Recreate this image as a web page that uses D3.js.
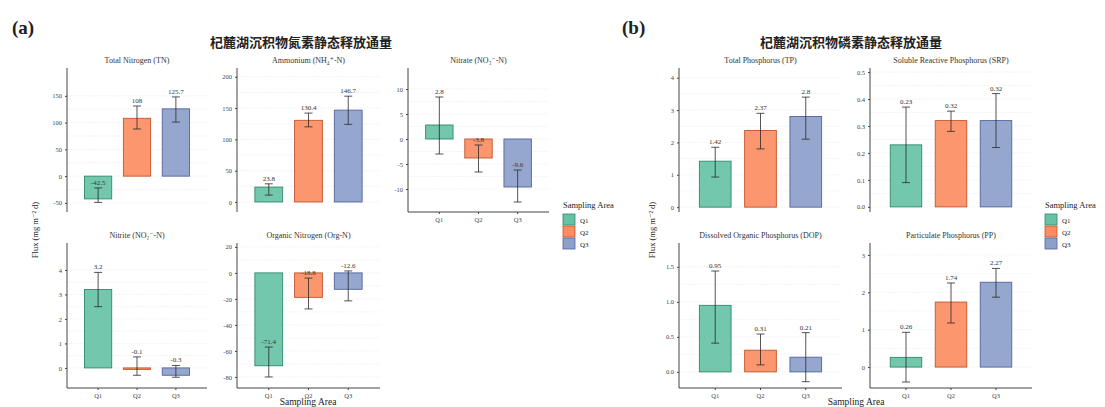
<!DOCTYPE html>
<html lang="en">
<meta charset="utf-8">
<script src="https://d3js.org/d3.v7.min.js"></script>
<style>
  body {margin: 0; background: #fff;}
  text {font-family: "Liberation Serif", "DejaVu Serif", serif; fill: #222;}
  .cn {font-family: "Noto Sans CJK SC", sans-serif; font-weight: bold; fill: #222;}
  .tick text {fill: #444; font-size: 6.5px;}
  .tick line {stroke: #444;}
  .domain {stroke: #444;}
</style>
<body>
<svg width=1105 height=407></svg>
<script>
// sampling areas and colours
var areas = ["Q1", "Q2", "Q3"];
var fills = ["#66c2a5", "#fc8d62", "#8da0cb"];
var strokes = ["#2f8a6c", "#c2552c", "#52649a"];

// nitrogen (mean, lower / upper end of error bar)
var tnMean = [-42.5, 108, 125.7];
var tnLo = [-49, 88, 101];
var tnHi = [-22, 131, 148];
var nh4Mean = [23.8, 130.4, 146.7];
var nh4Lo = [11, 120, 124];
var nh4Hi = [29, 142, 169];
var no3Mean = [2.8, -3.8, -9.6];
var no3Lo = [-3, -6.6, -12.6];
var no3Hi = [8.4, -1.2, -6.2];
var no2Mean = [3.2, -0.06, -0.3];
var no2Lo = [2.5, -0.3, -0.38];
var no2Hi = [3.9, 0.45, 0.1];
var orgnMean = [-71.4, -18.8, -12.6];
var orgnLo = [-80, -27.7, -21.5];
var orgnHi = [-57, -4, 1.5];

// phosphorus
var tpMean = [1.42, 2.37, 2.8];
var tpLo = [0.93, 1.8, 2.1];
var tpHi = [1.85, 2.9, 3.4];
var srpMean = [0.23, 0.32, 0.32];
var srpLo = [0.09, 0.28, 0.22];
var srpHi = [0.37, 0.355, 0.42];
var dopMean = [0.95, 0.31, 0.21];
var dopLo = [0.41, 0.1, -0.14];
var dopHi = [1.44, 0.54, 0.56];
var ppMean = [0.26, 1.74, 2.27];
var ppLo = [-0.4, 1.18, 1.87];
var ppHi = [0.93, 2.25, 2.64];

// y ticks
var tnTicks = [-50, 0, 50, 100, 150];
var nh4Ticks = [0, 50, 100, 150, 200];
var no3Ticks = [-10, -5, 0, 5, 10];
var no2Ticks = [0, 1, 2, 3, 4];
var orgnTicks = [-80, -60, -40, -20, 0, 20];
var tpTicks = [0, 1, 2, 3, 4];
var srpTicks = [0, 0.1, 0.2, 0.3, 0.4, 0.5];
var dopTicks = [0, 0.5, 1, 1.5];
var ppTicks = [0, 1, 2, 3];

var svg = d3.select("svg");

function fixMinus(s) { return s.replace("\u2212", "-"); }

var panels = [
  {t: "Total Nitrogen (TN)", m: tnMean, lo: tnLo, hi: tnHi, ticks: tnTicks, tf: "d", lf: ".1~f", dom: [-67, 202], x: 67, y: 68, w: 140, h: 144, xa: false},
  {t: "Ammonium (NH\u2084\u207A-N)", m: nh4Mean, lo: nh4Lo, hi: nh4Hi, ticks: nh4Ticks, tf: "d", lf: ".1~f", dom: [-16, 214], x: 237, y: 68, w: 143, h: 144, xa: false},
  {t: "Nitrate (NO\u2083\u207B-N)", m: no3Mean, lo: no3Lo, hi: no3Hi, ticks: no3Ticks, tf: "d", lf: ".1~f", dom: [-14.6, 14.2], x: 408, y: 68, w: 141, h: 144, xa: true},
  {t: "Nitrite (NO\u2082\u207B-N)", m: no2Mean, lo: no2Lo, hi: no2Hi, ticks: no2Ticks, tf: "d", lf: ".1~f", dom: [-0.82, 5.1], x: 67, y: 243, w: 140, h: 145, xa: true},
  {t: "Organic Nitrogen (Org-N)", m: orgnMean, lo: orgnLo, hi: orgnHi, ticks: orgnTicks, tf: "d", lf: ".1~f", dom: [-88.5, 23], x: 237, y: 243, w: 143, h: 145, xa: true},
  {t: "Total Phosphorus (TP)", m: tpMean, lo: tpLo, hi: tpHi, ticks: tpTicks, tf: "d", lf: ".2~f", dom: [-0.15, 4.3], x: 679, y: 68, w: 163, h: 144, xa: false},
  {t: "Soluble Reactive Phosphorus (SRP)", m: srpMean, lo: srpLo, hi: srpHi, ticks: srpTicks, tf: ".1f", lf: ".2~f", dom: [-0.019, 0.515], x: 870, y: 68, w: 162, h: 144, xa: false},
  {t: "Dissolved Organic Phosphorus (DOP)", m: dopMean, lo: dopLo, hi: dopHi, ticks: dopTicks, tf: ".1f", lf: ".2~f", dom: [-0.23, 1.84], x: 679, y: 243, w: 163, h: 145, xa: true},
  {t: "Particulate Phosphorus (PP)", m: ppMean, lo: ppLo, hi: ppHi, ticks: ppTicks, tf: "d", lf: ".2~f", dom: [-0.56, 3.32], x: 870, y: 243, w: 162, h: 145, xa: true}
];

panels.forEach(function(p) {
  var g = svg.append("g").attr("transform", "translate(" + p.x + "," + p.y + ")");
  var x = d3.scaleBand().domain(areas).range([0, p.w]).paddingInner(0.3).paddingOuter(0.45);
  var y = d3.scaleLinear().domain(p.dom).range([p.h, 0]);

  // faint grid
  var minor = [];
  for (var i = 0; i < p.ticks.length - 1; i++) minor.push((p.ticks[i] + p.ticks[i + 1]) / 2);
  g.selectAll(".grid").data(p.ticks.concat(minor)).enter().append("line")
    .attr("x1", 0).attr("x2", p.w)
    .attr("y1", function(d) { return y(d); }).attr("y2", function(d) { return y(d); })
    .attr("stroke", "#ececec").attr("stroke-width", 0.6).attr("stroke-dasharray", "2,1");

  g.selectAll(".bar").data(p.m).enter().append("rect")
    .attr("x", function(d, i) { return x(areas[i]); })
    .attr("width", x.bandwidth())
    .attr("y", function(d) { return y(Math.max(0, d)); })
    .attr("height", function(d) { return Math.abs(y(d) - y(0)); })
    .attr("fill", function(d, i) { return fills[i]; })
    .attr("fill-opacity", 0.92)
    .attr("stroke", function(d, i) { return strokes[i]; })
    .attr("stroke-width", 0.9);

  // error bars
  var cap = 4;
  p.m.forEach(function(d, i) {
    var cx = x(areas[i]) + x.bandwidth() / 2;
    var eb = g.append("g").attr("stroke", "#2a2a2a").attr("stroke-width", 0.8);
    eb.append("line").attr("x1", cx).attr("x2", cx).attr("y1", y(p.lo[i])).attr("y2", y(p.hi[i]));
    eb.append("line").attr("x1", cx - cap).attr("x2", cx + cap).attr("y1", y(p.lo[i])).attr("y2", y(p.lo[i]));
    eb.append("line").attr("x1", cx - cap).attr("x2", cx + cap).attr("y1", y(p.hi[i])).attr("y2", y(p.hi[i]));
    g.append("text")
      .attr("x", cx).attr("y", y(p.hi[i]) - 3)
      .attr("text-anchor", "middle")
      .attr("font-size", "7px").style("fill", "#333")
      .text(fixMinus(d3.format(p.lf)(d)));
  });

  var yAxis = d3.axisLeft(y).tickValues(p.ticks).tickSize(2).tickPadding(3)
    .tickFormat(function(d) { return fixMinus(d3.format(p.tf)(d)); });
  g.append("g").call(yAxis).select(".domain").attr("d", "M0,0V" + p.h);

  if (p.xa) {
    var xAxis = d3.axisBottom(x).tickSize(2).tickPadding(3);
    var xg = g.append("g").attr("transform", "translate(0," + p.h + ")").call(xAxis);
    xg.select(".domain").attr("d", "M0,0H" + p.w);
  }

  svg.append("text")
    .attr("x", p.x + p.w / 2).attr("y", p.y - 5)
    .attr("text-anchor", "middle")
    .attr("font-size", "8px").style("fill", "#333")
    .text(p.t);
});

// panel letters and titles
svg.append("text").attr("x", 12).attr("y", 34).attr("font-size", "19px").attr("font-weight", "bold").text("(a)");
svg.append("text").attr("x", 622).attr("y", 34).attr("font-size", "19px").attr("font-weight", "bold").text("(b)");
svg.append("text").attr("class", "cn").attr("x", 210).attr("y", 47).attr("font-size", "13px")
  .text("杞麓湖沉积物氮素静态释放通量");
svg.append("text").attr("class", "cn").attr("x", 760).attr("y", 47).attr("font-size", "13px")
  .text("杞麓湖沉积物磷素静态释放通量");

// axis titles
[[38, 230], [655, 230]].forEach(function(c) {
  svg.append("text")
    .attr("transform", "translate(" + c[0] + "," + c[1] + ") rotate(-90)")
    .attr("text-anchor", "middle").attr("font-size", "8.5px")
    .text("Flux (mg m\u207B\u00B2 d)");
});
[[308, 405], [856, 405]].forEach(function(c) {
  svg.append("text").attr("x", c[0]).attr("y", c[1])
    .attr("text-anchor", "middle").attr("font-size", "9.5px")
    .text("Sampling Area");
});

// legends
[[563, 208], [1045, 208]].forEach(function(c) {
  var lg = svg.append("g").attr("transform", "translate(" + c[0] + "," + c[1] + ")");
  lg.append("text").attr("x", 0).attr("y", 0).attr("font-size", "8.5px").text("Sampling Area");
  areas.forEach(function(a, i) {
    lg.append("rect").attr("x", 0).attr("y", 6 + i * 12).attr("width", 12).attr("height", 11)
      .attr("fill", fills[i]).attr("stroke", strokes[i]).attr("stroke-width", 0.8);
    lg.append("text").attr("x", 17).attr("y", 14.5 + i * 12).attr("font-size", "7px").text(a);
  });
});
</script>
</body>
</html>
